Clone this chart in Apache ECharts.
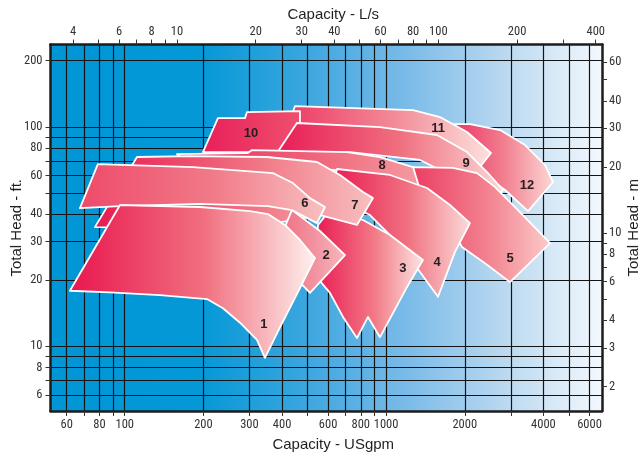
<!DOCTYPE html>
<html><head><meta charset="utf-8">
<script src="https://cdn.jsdelivr.net/npm/echarts@6/dist/echarts.min.js"></script>
<style>html,body{margin:0;padding:0;background:#fff}#c{width:644px;height:453px}</style>
</head><body><div id="c"></div>
<script>
// ---------- axis data ----------
const gpmRange = [52, 6700];
const ftRange = [5.07, 237];
const LPS_PER_GPM = 0.0630902;
const M_PER_FT = 0.3048;
const gpmTicks = [60,70,80,90,100,200,300,400,500,600,700,800,900,1000,2000,3000,4000,5000,6000];
const gpmLabels = [60,80,100,200,300,400,600,800,1000,2000,4000,6000];
const lpsTicks = [4,5,6,7,8,9,10,20,30,40,50,60,70,80,90,100,200,300,400];
const lpsLabels = [4,6,8,10,20,30,40,60,80,100,200,400];
const ftTicks = [6,7,8,9,10,20,30,40,50,60,70,80,90,100,200];
const ftLabels = [6,8,10,20,30,40,60,80,100,200];
const mTicks = [2,3,4,5,6,7,8,9,10,20,30,40,50,60];
const mLabels = [2,3,4,6,8,10,20,30,40,60];

// ---------- pump regions: [USgpm, ft] outline vertices ----------
const card1 = [[95.9,44],[194,43.1],[301.4,41.3],[353.2,40],[410.3,35.7],[468.3,30.5],[534.4,25.2],[468.3,18.4],[392.6,12.2],[343.9,8.85],[320.6,10.7],[276,12.8],[237.6,14.9],[206.4,16.4],[136.3,17.1],[87.8,17.6],[61.7,17.9]];
const card2 = [[436.4,41.7],[558.5,33.5],[696.3,26],[511.3,17.5],[428.7,21.8],[375.7,27.5]];
const card3 = [[610,41.7],[815.7,37.6],[1035,32.1],[1384,24.7],[1202,18.6],[947.8,11],[852.4,13.6],[773.8,10.9],[684.1,13.6],[610,17.5],[534.4,21.1],[548.7,35.7]];
const card4 = [[648.8,64.2],[1035,60.3],[1434,52.6],[1756,44],[2094,36.4],[1835,26.9],[1580,16.8],[1348,21.8],[1130,28.9],[867.6,39.6],[610,48.9]];
const card5 = [[1268,65.5],[1800,65],[2228,61.5],[2612,53.1],[3060,44],[4240,29.5],[2980,19.6],[2433,23.5],[1952,28.3],[1680,39.6],[1348,51.5]];
const card6 = [[78.9,67.6],[182.4,65.5],[369.2,61.5],[440.2,55.4],[511.3,47.3],[583.6,43.1],[543.9,36.4],[436.4,41.7],[353.2,43.5],[194,44.5],[95.9,43.5],[67.4,42.6]];
const card7 = [[111.4,72.8],[177.6,73.5],[350,72.8],[543.9,69.1],[666.2,60.3],[815.7,50.4],[891,47.3],[773.8,35.7],[558.5,39.6],[301.4,34.6],[76.9,34.9]];
const card8 = [[158.4,75.1],[296.2,75.9],[306.8,78.3],[708.7,76.7],[947.8,72.8],[1268,65.5],[1539,57.2],[1680,50.4],[1447,51.5],[1035,59.6],[648.8,63.5],[301.4,66.9],[177.6,66.9]];
const card9 = [[456,104],[947.8,99.7],[1566,91.7],[2040,76.7],[2433,62.2],[2802,51.5],[2455,44],[1917,57.2],[1348,70.6],[727.5,76.7],[375.7,73.5]];
const card10 = [[227.3,109.5],[288.4,109.5],[293.6,116.7],[468.3,117.9],[468.3,76.7],[199.2,76.7]];
const card11 = [[448.1,124.2],[1268,119.1],[1608,110.7],[2040,94.6],[2520,75.9],[2208,62.2],[1608,78.3],[947.8,87],[392.6,87],[421.3,101.8]];
const card12 = [[1680,102.9],[2094,102.9],[2729,96.6],[3402,82.5],[4056,66.9],[4354,56],[3493,41.3],[2852,51.5],[2094,66.9],[1680,78.3]];

const cardNames = ['1','2','3','4','5','6','7','8','9','10','11','12'];
const cardShapes = [card1,card2,card3,card4,card5,card6,card7,card8,card9,card10,card11,card12];
// label anchor positions [USgpm, ft]
const labelGpm = [341, 589, 1160, 1566, 2980, 489, 760, 965, 2022, 304, 1580, 3462];
const labelFt  = [12.6, 25.8, 22.7, 24.2, 25.2, 44.9, 44, 66.9, 68.4, 93.6, 98.6, 54.3];
// fill colours (left, middle, right)
const cardColors = [
  ['#e9164f','#f1707f','#fdf2ef'],
  ['#ee6a7c','#f291a0','#f7b8ba'],
  ['#e91852','#f27a86','#fce6e3'],
  ['#e91852','#f0707f','#fbdcda'],
  ['#ec3d63','#f28390','#fbcbc9'],
  ['#ee4a6a','#f17b88','#f8c0c0'],
  ['#e81a52','#f07080','#f8c0c0'],
  ['#e8245a','#ef6a7c','#f6a8ac'],
  ['#e91a55','#f0707f','#fbd8d6'],
  ['#e8205a','#ec3a64','#ef5070'],
  ['#ec3560','#f28c98','#fde2de'],
  ['#e9265a','#f28090','#fcd8d6']
];
// drawing order, back to front (indices into the arrays above)
const drawOrder = [11,10,9,8,7,4,3,2,6,5,1,0];

const L = Math.log10;
const FONT = '"Roboto Condensed","Liberation Sans",Arial,sans-serif';
const TFONT = '"Liberation Sans",Arial,sans-serif';

const chart = echarts.init(document.getElementById('c'), null, {renderer:'canvas'});

const bg = new echarts.graphic.LinearGradient(0,0,1,0,[
  {offset:0, color:'rgb(0,150,214)'},
  {offset:0.27, color:'rgb(4,152,215)'},
  {offset:0.45, color:'rgb(55,165,222)'},
  {offset:0.64, color:'rgb(120,186,232)'},
  {offset:0.82, color:'rgb(185,216,240)'},
  {offset:1, color:'rgb(243,248,253)'}
]);

const axisLine = {show:true, onZero:false, lineStyle:{color:'#1c1c1c', width:2.5}};
const tickStyle = {color:'#333', width:1};
const labStyle = {fontSize:12.5, color:'#333', fontFamily:FONT};
const nameStyleX = {fontSize:15, color:'#231f20', fontFamily:TFONT, padding:[0,0,0,14]};
const nameStyleY = {fontSize:15, color:'#231f20', fontFamily:TFONT};

function fmt(conv){ return v => String(Math.round(Math.pow(10, v) * conv)); }

const option = {
  animation:false,
  grid:{left:50.5, right:42, top:44.5, bottom:42, show:true, backgroundColor:bg, borderWidth:0,
        outerBoundsMode:'none', containLabel:false},
  xAxis:[
    {type:'value', position:'bottom', min:L(gpmRange[0]), max:L(gpmRange[1]),
     axisLine:axisLine,
     axisTick:{show:true, length:5, customValues:gpmTicks.map(L), lineStyle:tickStyle},
     axisLabel:Object.assign({customValues:gpmLabels.map(L), formatter:fmt(1), margin:7, hideOverlap:false}, labStyle),
     splitLine:{show:true, lineStyle:{color:'#141414', width:1.2}},
     name:'Capacity - USgpm', nameLocation:'middle', nameGap:26, nameMoveOverlap:false, nameTextStyle:nameStyleX},
    {type:'value', position:'top', min:L(gpmRange[0]), max:L(gpmRange[1]),
     axisLine:axisLine,
     axisTick:{show:true, length:5, customValues:lpsTicks.map(v=>L(v/LPS_PER_GPM)), lineStyle:tickStyle},
     axisLabel:Object.assign({customValues:lpsLabels.map(v=>L(v/LPS_PER_GPM)), formatter:fmt(LPS_PER_GPM), margin:6, hideOverlap:false}, labStyle),
     splitLine:{show:false},
     name:'Capacity - L/s', nameLocation:'middle', nameGap:22, nameMoveOverlap:false, nameTextStyle:nameStyleX}
  ],
  yAxis:[
    {type:'value', position:'left', min:L(ftRange[0]), max:L(ftRange[1]),
     axisLine:axisLine,
     axisTick:{show:true, length:5, customValues:ftTicks.map(L), lineStyle:tickStyle},
     axisLabel:Object.assign({customValues:ftLabels.map(L), formatter:fmt(1), margin:8, hideOverlap:false}, labStyle),
     splitLine:{show:true, lineStyle:{color:'#141414', width:1.2}},
     name:'Total Head - ft.', nameLocation:'middle', nameGap:26, nameRotate:90, nameMoveOverlap:false, nameTextStyle:nameStyleY},
    {type:'value', position:'right', min:L(ftRange[0]), max:L(ftRange[1]),
     axisLine:axisLine,
     axisTick:{show:true, length:5, customValues:mTicks.map(v=>L(v/M_PER_FT)), lineStyle:tickStyle},
     axisLabel:Object.assign({customValues:mLabels.map(v=>L(v/M_PER_FT)), formatter:fmt(M_PER_FT), margin:7, hideOverlap:false}, labStyle),
     splitLine:{show:false},
     name:'Total Head - m', nameLocation:'middle', nameGap:24, nameRotate:90, nameMoveOverlap:false, nameTextStyle:nameStyleY}
  ],
  series:[
    {type:'custom', xAxisIndex:0, yAxisIndex:0, z:3, clip:true,
     data: drawOrder.map(k => [L(labelGpm[k]), L(labelFt[k]), k]),
     renderItem:(params, api) => {
       const k = api.value(2);
       const pts = cardShapes[k].map(p => api.coord([L(p[0]), L(p[1])]));
       const c = cardColors[k];
       return {type:'polygon', shape:{points:pts},
         style:{fill:new echarts.graphic.LinearGradient(0,0,1,0,[
           {offset:0,color:c[0]},{offset:0.55,color:c[1]},{offset:1,color:c[2]}]),
           stroke:'#ffffff', lineWidth:1.8, lineJoin:'round'}};
     }},
    {type:'custom', xAxisIndex:0, yAxisIndex:0, z:4,
     data: cardNames.map((n,i) => [L(labelGpm[i]), L(labelFt[i]), i]),
     renderItem:(params, api) => {
       const k = api.value(2);
       const p = api.coord([api.value(0), api.value(1)]);
       return {type:'text', x:p[0], y:p[1],
         style:{text:cardNames[k], fill:'#231f20', font:'bold 13px "Liberation Sans",Arial,sans-serif', align:'center', verticalAlign:'middle'}};
     }}
  ]
};
chart.setOption(option);
</script></body></html>
